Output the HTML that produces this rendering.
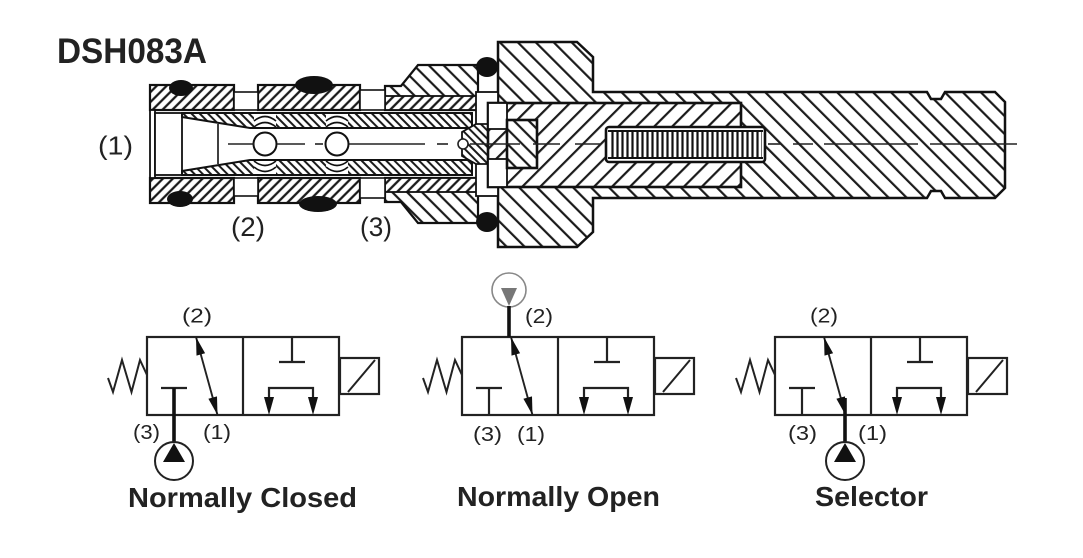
<!DOCTYPE html>
<html><head><meta charset="utf-8"><style>
html,body{margin:0;padding:0;background:#fff;}
svg{display:block;}
text{font-family:"Liberation Sans",Arial,sans-serif;fill:#222;}
</style></head><body>
<svg width="1083" height="558" viewBox="0 0 1083 558" xmlns="http://www.w3.org/2000/svg">
<defs>
 <pattern id="pc" patternUnits="userSpaceOnUse" width="7" height="7" patternTransform="rotate(45)"><rect width="7" height="7" fill="#fff"/><line x1="3.5" y1="0" x2="3.5" y2="7" stroke="#1a1a1a" stroke-width="2.3"/></pattern>
 <pattern id="ps" patternUnits="userSpaceOnUse" width="5.8" height="5.8" patternTransform="rotate(-45)"><rect width="5.8" height="5.8" fill="#fff"/><line x1="2.9" y1="0" x2="2.9" y2="5.8" stroke="#1a1a1a" stroke-width="2"/></pattern>
 <pattern id="pn" patternUnits="userSpaceOnUse" width="10.5" height="10.5" patternTransform="rotate(-45)"><rect width="10.5" height="10.5" fill="#fff"/><line x1="5" y1="0" x2="5" y2="10.5" stroke="#1a1a1a" stroke-width="2.2"/></pattern>
 <pattern id="pw" patternUnits="userSpaceOnUse" width="12.7" height="12.7" patternTransform="rotate(-45)"><rect width="12.7" height="12.7" fill="#fff"/><line x1="6" y1="0" x2="6" y2="12.7" stroke="#1a1a1a" stroke-width="2.2"/></pattern>
 <pattern id="pa" patternUnits="userSpaceOnUse" width="12.7" height="12.7" patternTransform="rotate(45)"><rect width="12.7" height="12.7" fill="#fff"/><line x1="6" y1="0" x2="6" y2="12.7" stroke="#1a1a1a" stroke-width="2.2"/></pattern>
 <pattern id="psp" patternUnits="userSpaceOnUse" width="5" height="40"><rect width="5" height="40" fill="#fff"/><line x1="2.5" y1="0" x2="2.5" y2="40" stroke="#111" stroke-width="2.2"/></pattern>

 <g id="sym">
  <rect x="0" y="337" width="192" height="78" fill="none" stroke="#222" stroke-width="2.2"/>
  <line x1="96" y1="337" x2="96" y2="415" stroke="#222" stroke-width="2.2"/>
  <polyline points="-39,378 -34,392 -25,360 -15.5,392 -7,360 0,375" fill="none" stroke="#222" stroke-width="2"/>
  <rect x="193" y="358" width="39" height="36" fill="none" stroke="#222" stroke-width="2.2"/>
  <line x1="201" y1="392" x2="228" y2="360" stroke="#222" stroke-width="2"/>
  <line x1="49" y1="337" x2="70.5" y2="415" stroke="#222" stroke-width="1.9"/>
  <polygon points="49,337 58.1,353.2 49.5,355.6" fill="#111"/>
  <polygon points="70.5,415 70,396.4 61.4,398.8" fill="#111"/>
  <line x1="14" y1="388" x2="40" y2="388" stroke="#222" stroke-width="2.2"/>
  <line x1="27" y1="388" x2="27" y2="415" stroke="#222" stroke-width="2.2"/>
  <line x1="145" y1="337" x2="145" y2="362" stroke="#222" stroke-width="2.2"/>
  <line x1="132" y1="362" x2="158" y2="362" stroke="#222" stroke-width="2.2"/>
  <polyline points="122,398 122,388 166,388 166,398" fill="none" stroke="#222" stroke-width="2.2"/>
  <polygon points="117,397 127,397 122,415" fill="#111"/>
  <polygon points="161,397 171,397 166,415" fill="#111"/>
 </g>
</defs>

<rect width="1083" height="558" fill="#fff"/>

<!-- Title -->
<text x="57" y="63" font-size="35" font-weight="bold" textLength="150" lengthAdjust="spacingAndGlyphs">DSH083A</text>

<!-- ============ Cross section ============ -->
<!-- hex body + shaft -->
<polygon points="498,42 577,42 593,57 593,92 927,92 931,99 941,99 945,92 995,92 1005,102 1005,188 995,198 945,198 941,191 931,191 927,198 593,198 593,232 577,247 498,247" fill="url(#pw)" stroke="#111" stroke-width="2.5"/>

<!-- nut + segment C -->
<polygon points="385,86 401,86 418,65 478,65 478,110 385,110" fill="url(#pn)" stroke="#111" stroke-width="2.2"/>
<polygon points="385,202 401,202 418,223 478,223 478,178 385,178" fill="url(#pn)" stroke="#111" stroke-width="2.2"/>
<rect x="385" y="96" width="93" height="14" fill="url(#pc)" stroke="#111" stroke-width="1.8"/>
<rect x="385" y="178" width="93" height="14" fill="url(#pc)" stroke="#111" stroke-width="1.8"/>

<!-- cage segments -->
<rect x="150" y="85" width="84" height="25" fill="url(#pc)" stroke="#111" stroke-width="2.2"/>
<rect x="150" y="178" width="84" height="25" fill="url(#pc)" stroke="#111" stroke-width="2.2"/>
<rect x="258" y="85" width="102" height="25" fill="url(#pc)" stroke="#111" stroke-width="2.2"/>
<rect x="258" y="178" width="102" height="25" fill="url(#pc)" stroke="#111" stroke-width="2.2"/>
<!-- windows -->
<rect x="234" y="92" width="24" height="18" fill="#fff" stroke="#111" stroke-width="1.6"/>
<rect x="234" y="178" width="24" height="18" fill="#fff" stroke="#111" stroke-width="1.6"/>
<rect x="360" y="90" width="25" height="20" fill="#fff" stroke="#111" stroke-width="1.6"/>
<rect x="360" y="178" width="25" height="20" fill="#fff" stroke="#111" stroke-width="1.6"/>
<!-- left end -->
<rect x="150" y="110" width="5" height="68" fill="#fff" stroke="#111" stroke-width="1.8"/>
<rect x="155" y="113" width="27" height="62" fill="#fff" stroke="#111" stroke-width="1.8"/>

<!-- spool walls -->
<polygon points="182,113 472,113 472,128 250,128 182,117" fill="url(#ps)" stroke="#111" stroke-width="2"/>
<polygon points="182,175 472,175 472,160 250,160 182,171" fill="url(#ps)" stroke="#111" stroke-width="2"/>
<line x1="218" y1="124" x2="218" y2="164" stroke="#111" stroke-width="1.6"/>
<!-- ball holes -->
<rect x="254" y="114" width="22" height="13" fill="#fff"/>
<rect x="254" y="161" width="22" height="13" fill="#fff"/>
<rect x="326" y="114" width="22" height="13" fill="#fff"/>
<rect x="326" y="161" width="22" height="13" fill="#fff"/>
<path d="M254,121 Q265,112 276,121 M254,127 Q265,118 276,127 M254,167 Q265,176 276,167 M254,161 Q265,170 276,161" fill="none" stroke="#111" stroke-width="1.6"/>
<path d="M326,121 Q337,112 348,121 M326,127 Q337,118 348,127 M326,167 Q337,176 348,167 M326,161 Q337,170 348,161" fill="none" stroke="#111" stroke-width="1.6"/>
<circle cx="265" cy="144" r="11.5" fill="#fff" stroke="#111" stroke-width="2"/>
<circle cx="337" cy="144" r="11.5" fill="#fff" stroke="#111" stroke-width="2"/>

<!-- gap / poppet -->
<rect x="476" y="92" width="22" height="104" fill="#fff" stroke="#111" stroke-width="1.8"/>
<polygon points="462,132 476,124 507,124 507,164 476,164 462,156" fill="url(#ps)" stroke="#111" stroke-width="1.8"/>
<!-- seals -->
<ellipse cx="181" cy="88" rx="12" ry="8" fill="#111"/>
<ellipse cx="180" cy="199" rx="13" ry="8" fill="#111"/>
<ellipse cx="314" cy="85" rx="19" ry="9" fill="#111"/>
<ellipse cx="318" cy="204" rx="19" ry="8" fill="#111"/>
<ellipse cx="487" cy="67" rx="11" ry="10" fill="#111"/>
<ellipse cx="487" cy="222" rx="11" ry="10" fill="#111"/>

<!-- armature tube -->
<rect x="488" y="103" width="253" height="84" fill="url(#pa)" stroke="#111" stroke-width="2.6"/>
<rect x="488" y="103" width="19" height="26" fill="#fff" stroke="#111" stroke-width="1.8"/>
<rect x="488" y="159" width="19" height="28" fill="#fff" stroke="#111" stroke-width="1.8"/>
<rect x="507" y="120" width="30" height="48" fill="url(#pn)" stroke="#111" stroke-width="2.6"/>

<!-- spring -->
<rect x="606" y="127" width="159" height="35" rx="3" fill="#fff" stroke="#111" stroke-width="2.6"/>
<rect x="609" y="130" width="153" height="29" fill="url(#psp)"/>
<line x1="608" y1="131" x2="763" y2="131" stroke="#111" stroke-width="2"/>
<line x1="608" y1="158" x2="763" y2="158" stroke="#111" stroke-width="2"/>

<!-- centerline -->
<g stroke="#222" stroke-width="1.6">
 <line x1="228" y1="144" x2="254" y2="144"/>
 <line x1="277" y1="144" x2="305" y2="144"/>
 <line x1="315" y1="144" x2="323" y2="144"/>
 <line x1="349" y1="144" x2="425" y2="144"/>
 <line x1="437" y1="144" x2="448" y2="144"/>
 <line x1="470" y1="144" x2="520" y2="144"/>
 <line x1="533" y1="144" x2="560" y2="144"/>
 <line x1="575" y1="144" x2="600" y2="144"/>
 <line x1="768" y1="144" x2="781" y2="144"/>
 <line x1="793" y1="144" x2="813" y2="144"/>
 <line x1="824" y1="144" x2="918" y2="144"/>
 <line x1="930" y1="144" x2="1017" y2="144"/>
</g>
<circle cx="463" cy="144" r="5" fill="#fff" stroke="#222" stroke-width="1.6"/>

<!-- cross-section labels -->
<text x="98" y="154.5" font-size="26" textLength="35" lengthAdjust="spacingAndGlyphs">(1)</text>
<text x="231" y="236" font-size="27" textLength="34" lengthAdjust="spacingAndGlyphs">(2)</text>
<text x="360" y="236" font-size="27" textLength="32" lengthAdjust="spacingAndGlyphs">(3)</text>

<!-- ============ Symbols ============ -->
<use href="#sym" transform="translate(147,0)"/>
<use href="#sym" transform="translate(462,0)"/>
<use href="#sym" transform="translate(775,0)"/>

<!-- pump 1 -->
<line x1="174" y1="388" x2="174" y2="442" stroke="#111" stroke-width="3.6"/>
<circle cx="174" cy="461" r="19" fill="none" stroke="#222" stroke-width="2"/>
<polygon points="174,443 163,462 185,462" fill="#111"/>
<!-- pump 2 (gray, top) -->
<circle cx="509" cy="290" r="17" fill="none" stroke="#888" stroke-width="1.6"/>
<polygon points="501,288 517,288 509,306" fill="#777"/>
<line x1="509" y1="306" x2="509" y2="337" stroke="#111" stroke-width="3.6"/>
<!-- pump 3 -->
<line x1="845" y1="398" x2="845" y2="442" stroke="#111" stroke-width="3.6"/>
<circle cx="845" cy="461" r="19" fill="none" stroke="#222" stroke-width="2"/>
<polygon points="845,443 834,462 856,462" fill="#111"/>

<!-- symbol labels -->
<g font-size="20">
 <text x="182" y="322.5" textLength="30" lengthAdjust="spacingAndGlyphs">(2)</text>
 <text x="133" y="439" textLength="27" lengthAdjust="spacingAndGlyphs">(3)</text>
 <text x="203" y="439" textLength="28" lengthAdjust="spacingAndGlyphs">(1)</text>

 <text x="525" y="323" textLength="28" lengthAdjust="spacingAndGlyphs">(2)</text>
 <text x="473" y="441" textLength="29" lengthAdjust="spacingAndGlyphs">(3)</text>
 <text x="517" y="441" textLength="28" lengthAdjust="spacingAndGlyphs">(1)</text>

 <text x="810" y="322.5" textLength="28" lengthAdjust="spacingAndGlyphs">(2)</text>
 <text x="788" y="440" textLength="29" lengthAdjust="spacingAndGlyphs">(3)</text>
 <text x="858" y="440" textLength="29" lengthAdjust="spacingAndGlyphs">(1)</text>
</g>

<!-- titles -->
<g font-size="28" font-weight="bold">
 <text x="128" y="507" textLength="229" lengthAdjust="spacingAndGlyphs">Normally Closed</text>
 <text x="457" y="506" textLength="203" lengthAdjust="spacingAndGlyphs">Normally Open</text>
 <text x="815" y="506" textLength="113" lengthAdjust="spacingAndGlyphs">Selector</text>
</g>
</svg>
</body></html>
